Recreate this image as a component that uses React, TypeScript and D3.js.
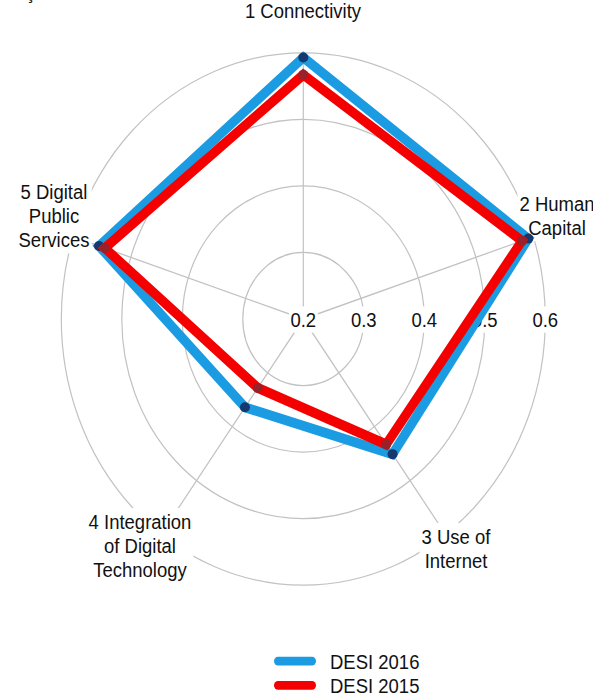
import React, { useEffect, useRef } from "react";
import * as d3 from "d3";

const categories = ["1 Connectivity", "2 Human Capital", "3 Use of Internet", "4 Integration of Digital Technology", "5 Digital Public Services"];
const labelLines = [["1 Connectivity"], ["2 Human", "Capital"], ["3 Use of", "Internet"], ["4 Integration", "of Digital", "Technology"], ["5 Digital", "Public", "Services"]];
const desi2016 = [0.593, 0.591, 0.451, 0.364, 0.555];
const desi2015 = [0.567, 0.58, 0.433, 0.328, 0.545];
const ticks = [0.2, 0.3, 0.4, 0.5, 0.6];
const tickLabels = ["0.2", "0.3", "0.4", "0.5", "0.6"];
const seriesNames = ["DESI 2016", "DESI 2015"];
const seriesColors = ["#1b9ce2", "#f40000"];
const dotColors = ["#15386e", "#9a2127"];

const W = 593;
const H = 699;
const SY = 1.1;
const FONT = "'Liberation Sans', Arial, Helvetica, sans-serif";

export default function App() {
  const ref = useRef<SVGSVGElement | null>(null);

  useEffect(() => {
    const svg = d3.select(ref.current);
    svg.selectAll("*").remove();
    const root = svg.append("g").attr("transform", `scale(1,${SY})`);

    const cx = 303.3;
    const cy = 290;
    const r = d3.scaleLinear().domain([0.2, 0.6]).range([0, 242]);
    const ang = (i: number) => (i * 2 * Math.PI) / categories.length;
    const pt = (v: number, i: number): [number, number] => [cx + r(v) * Math.sin(ang(i)), cy - r(v) * Math.cos(ang(i))];

    const grid = root.append("g");
    ticks.slice(1).forEach((t) => {
      grid.append("circle").attr("cx", cx).attr("cy", cy).attr("r", r(t))
        .attr("fill", "none").attr("stroke", "#c2c2c2").attr("stroke-width", 1.2);
    });
    categories.forEach((_, i) => {
      const [x, y] = pt(0.6, i);
      grid.append("line").attr("x1", cx).attr("y1", cy).attr("x2", x).attr("y2", y)
        .attr("stroke", "#c2c2c2").attr("stroke-width", 1.2);
    });

    const withBg = (g: any, pad = 2) => {
      const bb = (g.node() as SVGGElement).getBBox();
      g.insert("rect", ":first-child").attr("x", bb.x - pad).attr("y", bb.y - pad)
        .attr("width", bb.width + 2 * pad).attr("height", bb.height + 2 * pad).attr("fill", "#fff");
    };

    // tick labels
    ticks.forEach((t, k) => {
      const g = root.append("g");
      g.append("text").attr("x", cx + r(t)).attr("y", cy + 0.5).attr("text-anchor", "middle")
        .attr("dominant-baseline", "central").attr("font-family", FONT).attr("font-size", 18.5)
        .attr("fill", "#111").text(tickLabels[k]);
      withBg(g, 1.5);
    });

    // category labels
    const labelPos: [number, number][] = [[303, 16.4], [557, 191.8], [456, 494.5], [140, 481], [54, 181]];
    const lineGap = 21.8;
    labelLines.forEach((lines, i) => {
      const g = root.append("g");
      lines.forEach((ln, j) => {
        g.append("text").attr("x", labelPos[i][0]).attr("y", labelPos[i][1] + j * lineGap)
          .attr("text-anchor", "middle").attr("font-family", FONT).attr("font-size", 18.5)
          .attr("fill", "#111").text(ln);
      });
      withBg(g, 2);
    });

    // series
    const line = d3.line<[number, number]>().curve(d3.curveLinearClosed);
    [desi2016, desi2015].forEach((vals, s) => {
      const pts = vals.map((v, i) => pt(v, i));
      root.append("path").attr("d", line(pts) as string).attr("fill", "none")
        .attr("stroke", seriesColors[s]).attr("stroke-width", 9).attr("stroke-linejoin", "miter");
      pts.forEach(([x, y]) => {
        root.append("ellipse").attr("cx", x).attr("cy", y).attr("rx", 5).attr("ry", 5 / SY)
          .attr("fill", dotColors[s]);
      });
    });

    // legend
    const legY = [601, 623];
    seriesNames.forEach((n, s) => {
      root.append("line").attr("x1", 278).attr("x2", 312).attr("y1", legY[s]).attr("y2", legY[s])
        .attr("stroke", seriesColors[s]).attr("stroke-width", 8).attr("stroke-linecap", "round");
      root.append("text").attr("x", 330).attr("y", legY[s] + 0.5).attr("dominant-baseline", "central")
        .attr("font-family", FONT).attr("font-size", 18.5).attr("fill", "#111").text(n);
    });

    // cropped glyph fragment at the top-left edge
    root.append("text").attr("x", 25.5).attr("y", -0.5).attr("font-family", FONT).attr("font-size", 18.5)
      .attr("fill", "#111").text("ç");
  }, []);

  return (
    <>
      <style>{`body{margin:0;background:#fff}`}</style>
      <svg ref={ref} width={W} height={H} style={{ display: "block" }} />
    </>
  );
}
